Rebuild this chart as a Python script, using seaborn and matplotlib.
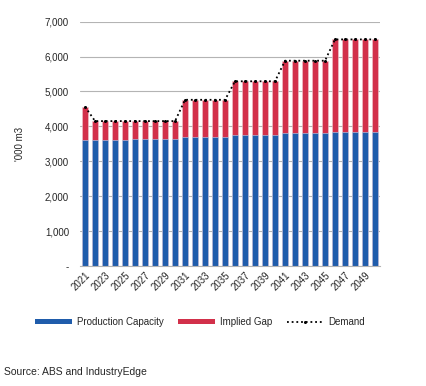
import matplotlib
matplotlib.use("Agg")
import matplotlib.pyplot as plt
import numpy as np
import pandas as pd
import seaborn as sns
from matplotlib.lines import Line2D
from matplotlib.patches import Patch

# Данные (оценка по картинке)
years = list(range(2021, 2051))
capacity = [3600] * 5 + [3650] * 5 + [3700] * 5 + [3750] * 5 + [3800] * 5 + [3850] * 5
demand = [4560] + [4150] * 9 + [4760] * 5 + [5290] * 5 + [5880] * 5 + [6490] * 5
gap = [d - c for d, c in zip(demand, capacity)]

blue = "#1F5CAB"
red = "#D2304A"

sns.set_theme(style="white")
plt.rcParams["font.family"] = ["Liberation Sans", "DejaVu Sans"]

df = pd.DataFrame({"year": years, "capacity": capacity, "gap": gap, "demand": demand})

fig = plt.figure(figsize=(4.26, 3.86), dpi=100)
ax = fig.add_axes([0.188, 0.311, 0.704, 0.633])

# Столбцы: сначала общий (спрос = мощность + разрыв), поверх мощность
sns.barplot(data=df, x="year", y="demand", color=red, width=0.62,
            edgecolor="#f0c8d0", linewidth=0.4, saturation=1, ax=ax)
sns.barplot(data=df, x="year", y="capacity", color=blue, width=0.62,
            edgecolor="#c8d4ec", linewidth=0.4, saturation=1, ax=ax)
sns.lineplot(x=np.arange(len(years)), y=df["demand"], color="black",
             linestyle=(0, (1, 1.6)), linewidth=1.3, marker="o", markersize=2.2,
             markeredgewidth=0, ax=ax)

ax.set_ylim(0, 7000)
ax.set_xlim(-0.5, len(years) - 0.5)
ax.set_yticks(range(0, 7001, 1000))
ax.set_yticklabels(["-"] + [f"{v:,}" for v in range(1000, 7001, 1000)], fontsize=7)
ax.yaxis.grid(True, color="#b4b4b4", linewidth=0.8)
ax.set_axisbelow(True)

ax.set_xticks(range(0, len(years), 2))
ax.set_xticklabels([str(y) for y in years[::2]], rotation=45, ha="right",
                   rotation_mode="anchor", fontsize=7)
ax.tick_params(axis="x", length=0, pad=3)
ax.tick_params(axis="y", length=0, pad=8)
ax.set_xlabel("")
ax.set_ylabel("'000 m3", fontsize=7, labelpad=14)

for s in ["top", "right", "left"]:
    ax.spines[s].set_visible(False)
ax.spines["bottom"].set_color("#b4b4b4")
ax.spines["bottom"].set_linewidth(0.8)

handles = [
    Patch(facecolor=blue, edgecolor="none", label="Production Capacity"),
    Patch(facecolor=red, edgecolor="none", label="Implied Gap"),
    Line2D([0], [0], color="black", linestyle=(0, (1, 1.6)), linewidth=1.3,
           marker="o", markersize=2.2, markeredgewidth=0, label="Demand"),
]
fig.legend(handles=handles, loc="center", bbox_to_anchor=(0.47, 0.166), ncol=3,
           frameon=False, fontsize=7, handlelength=3.8, handleheight=0.55,
           handletextpad=0.5, columnspacing=1.5)

fig.text(0.01, 0.036, "Source: ABS and IndustryEdge", fontsize=7.5, ha="left", va="center")

fig.savefig("out.png", dpi=100)
